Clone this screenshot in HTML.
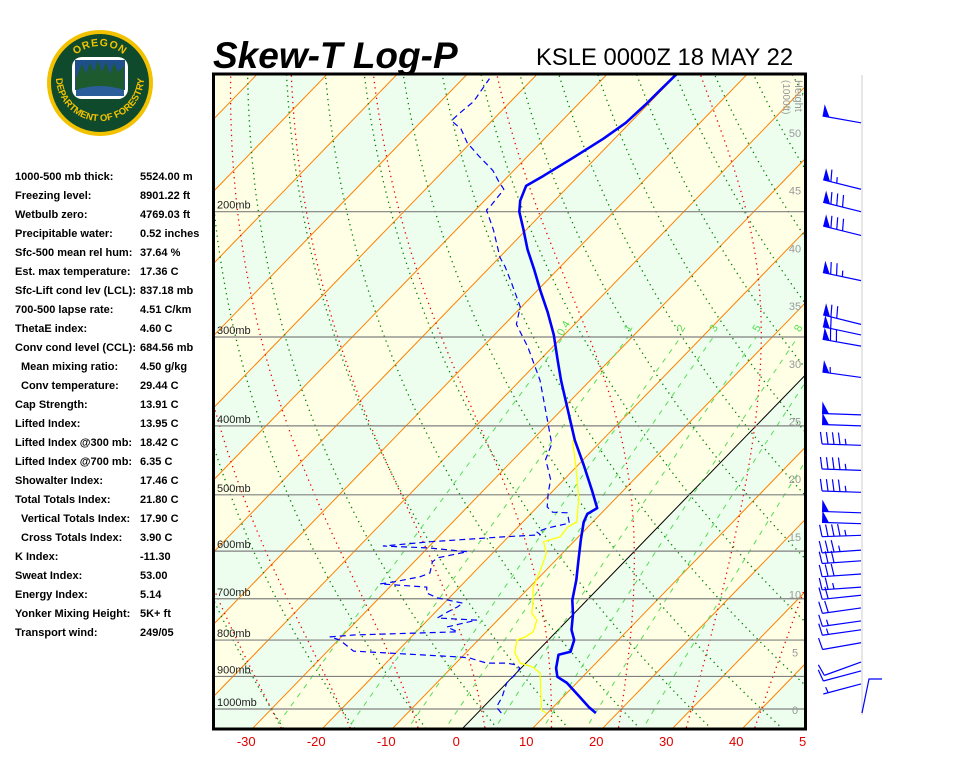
<!DOCTYPE html>
<html><head><meta charset="utf-8"><title>Skew-T Log-P</title>
<style>
html,body{margin:0;padding:0;background:#fff;}
svg{display:block;font-family:"Liberation Sans",Arial,sans-serif;}
.lp{font-size:11px;font-weight:bold;fill:#000;}
</style></head>
<body>
<svg id="chart" width="960" height="768" viewBox="0 0 960 768">
<defs>
<clipPath id="plotclip"><rect x="214" y="74" width="592" height="655"/></clipPath>
<clipPath id="axclip"><rect x="200" y="730" width="606" height="30"/></clipPath>
<path id="arcTop" d="M63,83 A37,37 0 0 1 137,83"/>
<path id="arcBot" d="M58,64 A44,44 0 1 0 142,64"/>
</defs>

<g>
<circle cx="100" cy="83" r="53" fill="#f2c200"/>
<circle cx="100" cy="83" r="49" fill="#0f4a2c"/>
<rect x="72" y="57" width="56" height="42" rx="10" fill="#fff"/>
<rect x="75" y="60" width="50" height="30" fill="#1f4f8a"/>
<polygon points="76,78 82,64 86,74 90,62 94,72 98,60 102,72 106,62 110,74 114,63 118,72 124,66 124,90 76,90" fill="#1d5a2e"/>
<path d="M76,90 Q100,82 124,90 L124,96 L76,96 Z" fill="#2b5d9a"/>
<text font-size="10.5" font-weight="bold" fill="#f2c200" letter-spacing="1"><textPath href="#arcTop" startOffset="50%" text-anchor="middle">OREGON</textPath></text>
<text font-size="9.5" font-weight="bold" fill="#f2c200"><textPath href="#arcBot" startOffset="50%" text-anchor="middle">DEPARTMENT OF FORESTRY</textPath></text>
</g>

<text x="213" y="68" font-size="37" font-weight="bold" font-style="italic">Skew-T Log-P</text>
<text x="536" y="65" font-size="23.8">KSLE 0000Z 18 MAY 22</text>

<g id="indices">
<text class="lp" x="15" y="180">1000-500 mb thick:</text><text class="lp" x="140" y="180">5524.00 m</text>
<text class="lp" x="15" y="199">Freezing level:</text><text class="lp" x="140" y="199">8901.22 ft</text>
<text class="lp" x="15" y="218">Wetbulb zero:</text><text class="lp" x="140" y="218">4769.03 ft</text>
<text class="lp" x="15" y="237">Precipitable water:</text><text class="lp" x="140" y="237">0.52 inches</text>
<text class="lp" x="15" y="256">Sfc-500 mean rel hum:</text><text class="lp" x="140" y="256">37.64 %</text>
<text class="lp" x="15" y="275">Est. max temperature:</text><text class="lp" x="140" y="275">17.36 C</text>
<text class="lp" x="15" y="294">Sfc-Lift cond lev (LCL):</text><text class="lp" x="140" y="294">837.18 mb</text>
<text class="lp" x="15" y="313">700-500 lapse rate:</text><text class="lp" x="140" y="313">4.51 C/km</text>
<text class="lp" x="15" y="332">ThetaE index:</text><text class="lp" x="140" y="332">4.60 C</text>
<text class="lp" x="15" y="351">Conv cond level (CCL):</text><text class="lp" x="140" y="351">684.56 mb</text>
<text class="lp" x="21" y="370">Mean mixing ratio:</text><text class="lp" x="140" y="370">4.50 g/kg</text>
<text class="lp" x="21" y="389">Conv temperature:</text><text class="lp" x="140" y="389">29.44 C</text>
<text class="lp" x="15" y="408">Cap Strength:</text><text class="lp" x="140" y="408">13.91 C</text>
<text class="lp" x="15" y="427">Lifted Index:</text><text class="lp" x="140" y="427">13.95 C</text>
<text class="lp" x="15" y="446">Lifted Index @300 mb:</text><text class="lp" x="140" y="446">18.42 C</text>
<text class="lp" x="15" y="465">Lifted Index @700 mb:</text><text class="lp" x="140" y="465">6.35 C</text>
<text class="lp" x="15" y="484">Showalter Index:</text><text class="lp" x="140" y="484">17.46 C</text>
<text class="lp" x="15" y="503">Total Totals Index:</text><text class="lp" x="140" y="503">21.80 C</text>
<text class="lp" x="21" y="522">Vertical Totals Index:</text><text class="lp" x="140" y="522">17.90 C</text>
<text class="lp" x="21" y="541">Cross Totals Index:</text><text class="lp" x="140" y="541">3.90 C</text>
<text class="lp" x="15" y="560">K Index:</text><text class="lp" x="140" y="560">-11.30</text>
<text class="lp" x="15" y="579">Sweat Index:</text><text class="lp" x="140" y="579">53.00</text>
<text class="lp" x="15" y="598">Energy Index:</text><text class="lp" x="140" y="598">5.14</text>
<text class="lp" x="15" y="617">Yonker Mixing Height:</text><text class="lp" x="140" y="617">5K+ ft</text>
<text class="lp" x="15" y="636">Transport wind:</text><text class="lp" x="140" y="636">249/05</text>
</g>

<g id="plot" clip-path="url(#plotclip)"></g>
<g id="axis" clip-path="url(#axclip)"></g>
<g id="winds"></g>
<rect x="213.5" y="74" width="592" height="655" fill="none" stroke="#000" stroke-width="3"/>
</svg>

<script>
// ---- data ----
const tempP = [1013,994,962,919,901,876,839,831,800,774,735,703,659,617,579,546,532,522,492,454,419,382,345,323,298,277,258,241,226,212,200,193,184,178,168,158,150,141,134,128];
const tempT = [16.9,15.1,12.4,8.6,6.4,5.0,3.5,4.8,3.7,1.9,-0.1,-2.1,-4.3,-6.8,-9.2,-11.3,-11.9,-11.3,-14.6,-19.2,-23.9,-28.8,-34.2,-37.5,-41.5,-45.5,-49.6,-53.4,-57.1,-60.4,-63.5,-64.9,-66.1,-65.0,-63.3,-61.6,-60.6,-60.3,-60.2,-60.1];
const dewP = [1013,994,962,919,890,876,867,862,862,848,845,829,800,792,787,779,774,767,750,745,731,719,710,698,687,674,667,663,652,644,621,613,601,594,590,582,573,569,564,557,548,530,529,520,497,476,461,446,424,398,345,310,288,272,252,239,232,212,199,196,186,182,175,167,160,153,149,146,140,130];
const dewT = [3.4,1.9,1.3,0.0,0.1,-0.2,-1.1,-2.8,-5.6,-8.7,-10.3,-26.3,-29.8,-31.6,-28.5,-14.1,-15.0,-16.3,-13.0,-18.9,-18.3,-17.6,-17.3,-21.7,-23.9,-24.7,-31.8,-30.2,-27.1,-26.2,-27.4,-27.2,-23.8,-29.7,-36.6,-30.4,-20.8,-15.7,-16.6,-15.7,-13.2,-14.9,-17.1,-18.6,-20.4,-21.9,-23.6,-25.4,-26.7,-29.9,-37.2,-43.5,-48.3,-50.2,-54.7,-57.9,-59.9,-64.7,-68.4,-68.4,-68.8,-70.4,-73.0,-77.0,-80.5,-83.3,-85.8,-85.7,-85.3,-86.2];
const wbP = [1013,1003,890,873,862,834,800,792,779,750,733,710,674,638,604,582,573,555,546,508,477,419];
const wbT = [9.8,8.7,3.4,1.5,-0.8,-3.0,-4.5,-3.7,-3.3,-4.4,-6.1,-7.3,-9.5,-10.8,-12.3,-14.3,-12.6,-12.9,-12.3,-15.1,-18.0,-24.2];
const windP = [150,186,200,216,250,288,298,309,342,386,400,426,462,496,530,549,570,598,619,646,674,692,721,752,774,807,859,884,922];
const windSpd = [50,65,80,80,75,70,60,70,55,50,50,45,45,45,50,50,45,35,30,30,25,20,20,15,15,10,10,10,5];
const windDir = [280,284,284,284,282,284,282,280,278,272,272,272,272,272,272,272,268,266,266,266,266,264,262,262,262,260,250,255,255];
const pressureLevels = [200,300,400,500,600,700,800,900,1000];
const pressureLabels = ["200mb","300mb","400mb","500mb","600mb","700mb","800mb","900mb","1000mb"];
const tempTicks = [-30,-20,-10,0,10,20,30,40,50];
const heightTicks = [0,5,10,15,20,25,30,35,40,45,50];
const mixRatios = [0.4,1,2,3,5,8,12,20];
const mixLabels = ["0.4","1","2","3","5","8","12","20"];

// ---- scales ----
const NS = "http://www.w3.org/2000/svg";
function yP(p){ return 709 - 309*Math.log(1000/p); }
function xT(t,p){ return 462 + 7*t + 0.97*(729 - yP(p)); }
function yH(h){ return 710 - h*11.54; }
function mk(tag, attrs, parent){ const e=document.createElementNS(NS,tag); for(const k in attrs) e.setAttribute(k,attrs[k]); parent.appendChild(e); return e; }
function ptsStr(arr){ return arr.map(a=>a[0].toFixed(1)+","+a[1].toFixed(1)).join(" "); }

const plot = document.getElementById("plot");
const PTOP = 120, PBOT = 1080;

// background bands
for(let t=-140; t<60; t+=10){
  const odd = Math.abs(Math.floor(t/10))%2===1;
  const poly = [[xT(t,PBOT),yP(PBOT)],[xT(t+10,PBOT),yP(PBOT)],[xT(t+10,PTOP),yP(PTOP)],[xT(t,PTOP),yP(PTOP)]];
  const el = mk("polygon",{points:ptsStr(poly),fill: odd?"#ffffe6":"#eefeee"},plot);
  
  
}
// isotherms
for(let t=-140; t<=60; t+=10){
  const el = mk("line",{x1:xT(t,PBOT),y1:yP(PBOT),x2:xT(t,PTOP),y2:yP(PTOP),stroke: t===0?"#000":"#ff8000","stroke-width":1},plot);
  
  
}
// dry adiabats
for(let t0=-60; t0<=160; t0+=10){
  const th = t0+273.15, pts=[];
  for(let p=PBOT; p>=PTOP; p-=10){ pts.push([xT(th*Math.pow(p/1000,0.286)-273.15,p), yP(p)]); }
  const el = mk("polyline",{points:ptsStr(pts),fill:"none",stroke:"#008000","stroke-width":1.3,"stroke-dasharray":"1.3 4"},plot);
  
  
}
// moist adiabats
function es(tc){ return 6.112*Math.exp(17.67*tc/(tc+243.5)); }
function dTdp(T,p){ const tc=T-273.15; const e=es(tc); const rs=0.622*e/(p-e);
  return (287*T + 2.5e6*rs)/(p*(1005 + 2.5e6*2.5e6*rs*0.622/(287*T*T))); }
for(let t0=-40; t0<=50; t0+=10){
  let up=[], T=t0+273.15, p=1000;
  up.push([xT(T-273.15,p),yP(p)]);
  while(p>PTOP){ const d=-4; T+=dTdp(T,p)*d; p+=d; up.push([xT(T-273.15,p),yP(p)]); }
  let dn=[]; T=t0+273.15; p=1000;
  while(p<PBOT){ const d=4; T+=dTdp(T,p)*d; p+=d; dn.unshift([xT(T-273.15,p),yP(p)]); }
  const el = mk("polyline",{points:ptsStr(dn.concat(up)),fill:"none",stroke:"#ee0000","stroke-width":1.3,"stroke-dasharray":"1.3 4"},plot);
  
  
}
// mixing ratio lines
function tdFromW(w,p){ const e=w*p/(622+w); const l=Math.log(e/6.112); return 243.5*l/(17.67-l); }
mixRatios.forEach((w,i)=>{
  const pts=[];
  for(let p=PBOT; p>=300; p-=10){ pts.push([xT(tdFromW(w,p),p),yP(p)]); }
  const el = mk("polyline",{points:ptsStr(pts),fill:"none",stroke:"#55dd55","stroke-width":1,"stroke-dasharray":"5 6"},plot);
  
  
  const lx = xT(tdFromW(w,305),305)+7, ly = 330;
  const tx = mk("text",{x:lx,y:ly,"font-size":11,fill:"#55dd55",transform:"rotate(-60 "+lx+" "+ly+")","text-anchor":"middle"},plot);
  tx.textContent = mixLabels[i];
  
  
});
// pressure lines
pressureLevels.forEach((p,i)=>{
  const y=yP(p);
  const el = mk("line",{x1:214,y1:y,x2:806,y2:y,stroke:"#808080","stroke-width":1.2},plot);
  
  
  const t = mk("text",{x:217,y:y-3,"font-size":11,fill:"#222"},plot);
  t.textContent = pressureLabels[i];
  
  
});
// height labels
heightTicks.forEach(h=>{
  const t = mk("text",{x:795,y:yH(h)+4,"font-size":11,fill:"#999","text-anchor":"middle"},plot);
  t.textContent = String(h);
  
  
});
{
  const t = mk("text",{x:783,y:80,"font-size":10,fill:"#999",transform:"rotate(90 783 80)"},plot);
  t.textContent = "(1000ft)";
  
  
  const t2 = mk("text",{x:795,y:80,"font-size":11,fill:"#999",transform:"rotate(90 795 80)"},plot);
  t2.textContent = "Height";
  
  
}
// soundings
function series(P,T,attrs,name){
  const pts = P.map((p,i)=>[xT(T[i],p),yP(p)]);
  const el = mk("polyline",Object.assign({points:ptsStr(pts),fill:"none","stroke-linejoin":"round"},attrs),plot);
  
  
}
series(wbP,wbT,{stroke:"#ffff00","stroke-width":1.3},"wetbulb-line");
series(dewP,dewT,{stroke:"#0000ff","stroke-width":1.2,"stroke-dasharray":"6 4"},"dewpoint-line");
series(tempP,tempT,{stroke:"#0000ff","stroke-width":2.6},"temperature-line");

// temperature axis labels
const axis = document.getElementById("axis");
tempTicks.forEach(t=>{
  const tx = mk("text",{x:xT(t,1066)-6,y:746,"font-size":13,fill:"#e00000","text-anchor":"middle"},axis);
  tx.textContent = String(t);
  
  
});

// wind barbs
const winds = document.getElementById("winds");
{
  const g = mk("line",{x1:862,y1:75,x2:862,y2:715,stroke:"#e6e6e6","stroke-width":2},winds);
  
  
  const tw = mk("path",{d:"M862,713 L869,679 L882,679",fill:"none",stroke:"#0000ff","stroke-width":1.2},winds);
  
  
}
windP.forEach((p,i)=>{
  const y0 = yP(p), x0 = 861, L = 39;
  const a = windDir[i]*Math.PI/180;
  const ux = Math.sin(a), uy = -Math.cos(a);
  const px = -uy, py = ux;
  const tx = x0+ux*L, ty = y0+uy*L;
  const g = mk("g",{},winds);
  
  
  mk("line",{x1:x0,y1:y0,x2:tx,y2:ty,stroke:"#0000ff","stroke-width":1.2},g);
  let s = windSpd[i], pos = 0;
  while(s>=50){
    const bx=tx-ux*pos, by=ty-uy*pos;
    mk("polygon",{points:ptsStr([[bx,by],[bx+px*12,by+py*12],[bx-ux*7,by-uy*7]]),fill:"#0000ff"},g);
    pos+=8; s-=50;
  }
  while(s>=10){
    const bx=tx-ux*pos, by=ty-uy*pos;
    mk("line",{x1:bx,y1:by,x2:bx+px*12+ux*2,y2:by+py*12+uy*2,stroke:"#0000ff","stroke-width":1.2},g);
    pos+=6; s-=10;
  }
  if(s>=5){
    if(pos===0) pos=5;
    const bx=tx-ux*pos, by=ty-uy*pos;
    mk("line",{x1:bx,y1:by,x2:bx+px*6+ux*1,y2:by+py*6+uy*1,stroke:"#0000ff","stroke-width":1.2},g);
  }
});
</script>
</body></html>
